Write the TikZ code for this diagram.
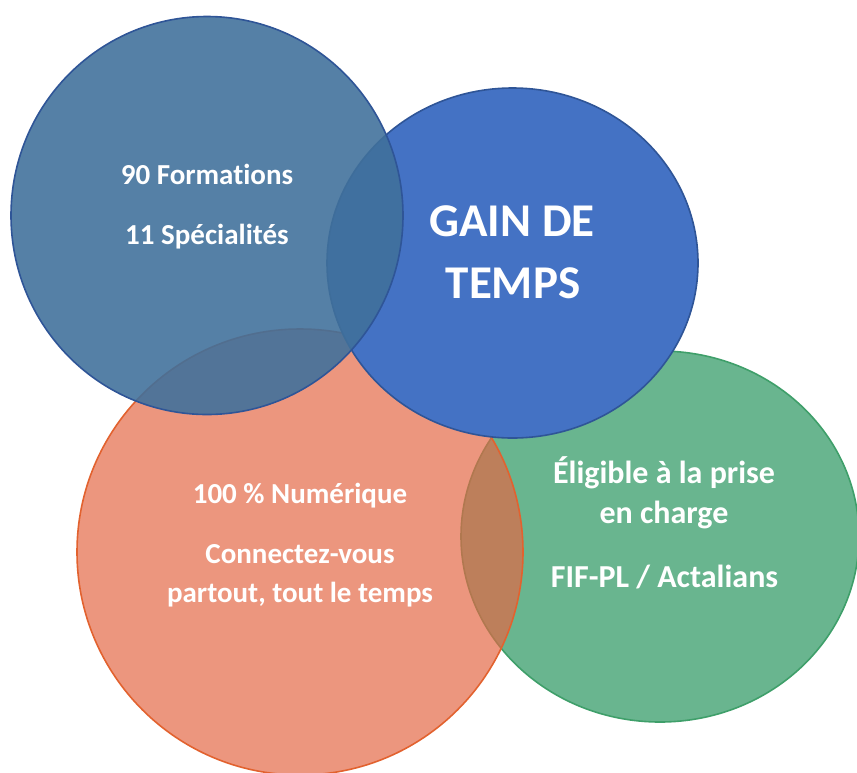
\documentclass[tikz,border=0pt]{standalone}
\usepackage{fontspec}
\setmainfont{Carlito}[Ligatures=CommonOff]
\definecolor{bluegrey}{HTML}{40709B}
\definecolor{royal}{HTML}{4472C4}
\definecolor{navyline}{HTML}{2F5597}
\definecolor{salmon}{HTML}{E46744}
\definecolor{salmonline}{HTML}{E2622F}
\definecolor{sage}{HTML}{69B58F}
\definecolor{sageline}{HTML}{3F9F6A}
\begin{document}
\begin{tikzpicture}[x=1pt,y=-1pt,
    txt/.style={text=white,font=\bfseries\fontsize{29}{35}\selectfont,anchor=base,inner sep=0pt},
    mid/.style={txt,font=\bfseries\fontsize{32}{38}\selectfont},
    big/.style={txt,font=\bfseries\fontsize{47}{56}\selectfont}]
  \useasboundingbox (0,0) rectangle (857,772);
  % circles, back to front
  \filldraw[fill=sage,draw=sageline,line width=1.6pt]
    (660,536.5) ellipse [x radius=199,y radius=185.5];
  \filldraw[fill=salmon,fill opacity=0.69,draw=salmonline,line width=1.6pt]
    (300,552) ellipse [x radius=223,y radius=223];
  \filldraw[fill=royal,draw=navyline,line width=1.6pt]
    (512.5,263) ellipse [x radius=185.5,y radius=175];
  \filldraw[fill=bluegrey,fill opacity=0.89,draw=navyline,line width=1.6pt]
    (207,215.5) ellipse [x radius=196,y radius=199];
  % texts
  \node[txt] (formations) at (207,184) {90 Formations};
  \node[txt] (specialites) at (207,244) {11 Spécialités};
  \node[big] (gain) at (512,236) {GAIN DE};
  \node[big] (temps) at (513,298) {TEMPS};
  \node[txt] (numerique) at (300,503) {100 \% Numérique};
  \node[txt] (connectez) at (300,563) {Connectez-vous};
  \node[txt] (partout) at (300,602) {partout, tout le temps};
  \node[mid] (eligible) at (664,483) {Éligible à la prise};
  \node[mid] (charge) at (664,523.5) {en charge};
  \node[mid] (fifpl) at (664.5,587.5) {FIF-PL / Actalians};
\end{tikzpicture}
\end{document}
